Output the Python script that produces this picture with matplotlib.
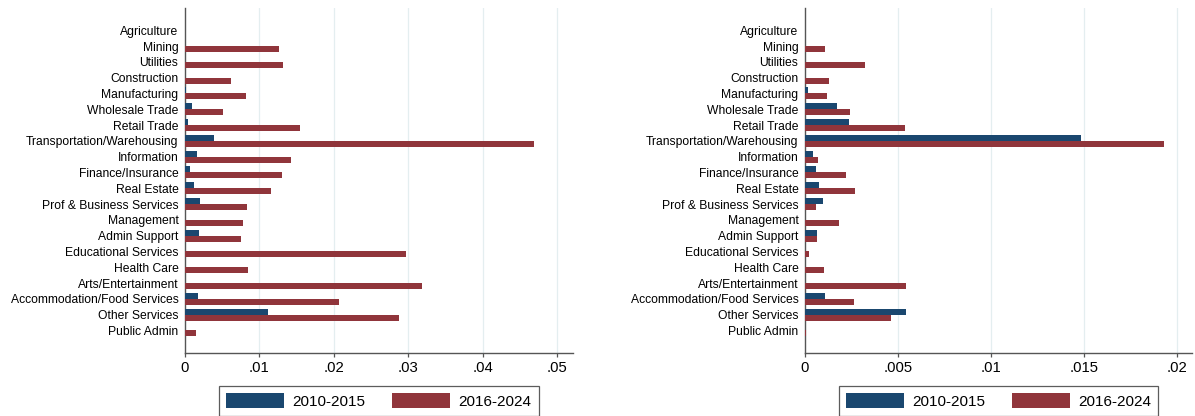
import matplotlib
matplotlib.use("Agg")
import matplotlib.pyplot as plt
from matplotlib.patches import Patch
import numpy as np

plt.rcParams['font.family'] = ['Liberation Sans', 'DejaVu Sans']

industries = [
    "Agriculture", "Mining", "Utilities", "Construction", "Manufacturing",
    "Wholesale Trade", "Retail Trade", "Transportation/Warehousing",
    "Information", "Finance/Insurance", "Real Estate",
    "Prof & Business Services", "Management", "Admin Support",
    "Educational Services", "Health Care", "Arts/Entertainment",
    "Accommodation/Food Services", "Other Services", "Public Admin",
]

# Left panel
left_2010_2015 = [0.0, 0.0, 0.0, 0.0, 0.00015, 0.00097, 0.00046, 0.00395,
                  0.00164, 0.00072, 0.00123, 0.00205, 0.0, 0.0019,
                  0.0, 0.0, 0.0, 0.00174, 0.01118, 0.0]
left_2016_2024 = [0.0, 0.01262, 0.01318, 0.0062, 0.0082, 0.00513, 0.01544,
                  0.0469, 0.01431, 0.01308, 0.01159, 0.00831, 0.0078,
                  0.00754, 0.02964, 0.00851, 0.0318, 0.02067, 0.02872,
                  0.00149]
left_ticks = [0, 0.01, 0.02, 0.03, 0.04, 0.05]
left_ticklabels = ["0", ".01", ".02", ".03", ".04", ".05"]

# Right panel
right_2010_2015 = [0.0, 0.0, 0.0, 0.0, 0.00018, 0.00175, 0.00238, 0.01485,
                   0.00045, 0.00061, 0.00077, 0.001, 0.0, 0.00067,
                   0.0, 0.0, 0.0, 0.0011, 0.00544, 0.0]
right_2016_2024 = [0.0, 0.0011, 0.00324, 0.0013, 0.0012, 0.00244, 0.0054,
                   0.01927, 0.00071, 0.00222, 0.00271, 0.00061, 0.00185,
                   0.00067, 0.00024, 0.00104, 0.00544, 0.00265, 0.00464,
                   0.00008]
right_ticks = [0, 0.005, 0.01, 0.015, 0.02]
right_ticklabels = ["0", ".005", ".01", ".015", ".02"]

series_labels = ["2010-2015", "2016-2024"]
BLUE = "#1a476f"
RED = "#90353b"
AXIS = "#555555"
GRID = "#e4eef0"

W, H = 1195, 416
fig = plt.figure(figsize=(W / 100, H / 100), dpi=100)

ax_l = fig.add_axes([184.7 / W, (H - 352.7) / H, 388.3 / W, 344.7 / H])
ax_r = fig.add_axes([804.7 / W, (H - 352.7) / H, 387.3 / W, 344.7 / H])

y = np.arange(len(industries))
bh = 0.38


def draw_panel(ax, early, late, ticks, ticklabels, xmax):
    ax.barh(y - bh / 2, early, height=bh, color=BLUE, linewidth=0, zorder=3)
    ax.barh(y + bh / 2, late, height=bh, color=RED, linewidth=0, zorder=3)
    ax.set_ylim(len(industries) - 1 + 1.41, -1.41)
    ax.set_xlim(0, xmax)
    ax.set_yticks(y)
    ax.set_yticklabels(industries, fontsize=8.7, color="black")
    ax.tick_params(axis="y", length=0, pad=4.5)
    ax.set_xticks(ticks)
    ax.set_xticklabels(ticklabels, fontsize=10.7, color="black")
    ax.tick_params(axis="x", length=3.2, width=0.9, color=AXIS, pad=2.5,
                   direction="out")
    for t in ticks[1:]:
        ax.axvline(t, color=GRID, lw=0.9, zorder=1)
    for s in ("top", "right"):
        ax.spines[s].set_visible(False)
    for s in ("left", "bottom"):
        ax.spines[s].set_color(AXIS)
        ax.spines[s].set_linewidth(1.0)
    handles = [Patch(facecolor=BLUE, edgecolor="none"),
               Patch(facecolor=RED, edgecolor="none")]
    leg = ax.legend(handles, series_labels, loc="upper center",
                    bbox_to_anchor=(0.5, -0.098), ncol=2, frameon=True,
                    fancybox=False, fontsize=11, handlelength=3.8,
                    handleheight=1.05, handletextpad=0.55,
                    columnspacing=1.75, borderpad=0.45, borderaxespad=0)
    leg.get_frame().set_edgecolor("#333333")
    leg.get_frame().set_linewidth(0.9)


draw_panel(ax_l, left_2010_2015, left_2016_2024, left_ticks,
           left_ticklabels, 0.0521)
draw_panel(ax_r, right_2010_2015, right_2016_2024, right_ticks,
           right_ticklabels, 0.0208)

fig.savefig("out.png", dpi=100, facecolor="white")
